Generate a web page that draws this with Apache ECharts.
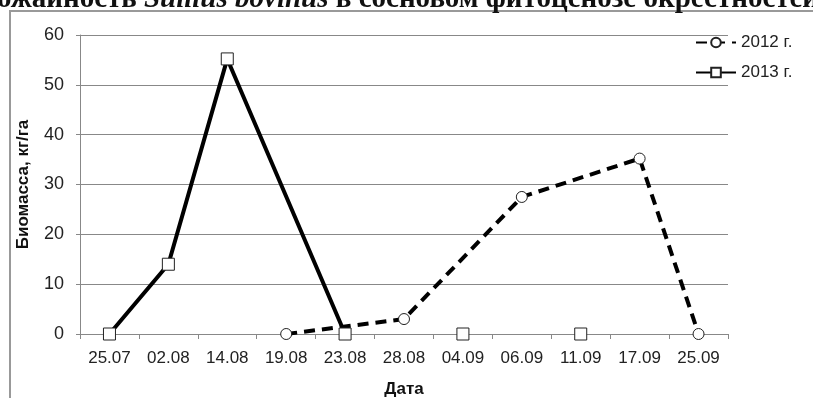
<!DOCTYPE html>
<html>
<head>
<meta charset="utf-8">
<script src="https://cdn.jsdelivr.net/npm/echarts@6/dist/echarts.min.js"></script>
<style>
  html, body { margin: 0; padding: 0; background: #fff; }
  #chart { width: 813px; height: 398px; }
</style>
</head>
<body>
<div id="chart"></div>
<script>
// даты отбора проб
const dates = ['25.07', '02.08', '14.08', '19.08', '23.08', '28.08', '04.09', '06.09', '11.09', '17.09', '25.09'];
// биомасса, кг/га
const y2012 = [null, null, null, 0, null, 3, null, 27.5, null, 35.2, 0];
const y2013 = [0, 14, 55.2, null, 0, null, null, null, null, null, null];
// отдельные точки 2013 г. без линии
const y2013dots = [null, null, null, null, null, null, 0, null, 0, null, null];
const yTicks = [0, 10, 20, 30, 40, 50, 60];

const font = '"Liberation Sans", Arial, sans-serif';
const serif = '"Liberation Serif", "Times New Roman", serif';
const markStyle = { color: '#fff', borderColor: '#222', borderWidth: 1 };

let myChart = echarts.init(document.getElementById('chart'));
myChart.setOption({
  backgroundColor: '#fff',
  animation: false,
  graphic: [
    {
      type: 'rect',
      shape: { x: 10, y: 11, width: 900, height: 500 },
      style: { fill: 'none', stroke: '#999', lineWidth: 2 },
      silent: true
    },
    {
      type: 'text',
      left: -3,
      top: -15,
      style: {
        text: '{a|ожайность }{i|Suillus bovinus}{a| в сосновом фитоценозе окрестностей}',
        fontFamily: serif,
        fontSize: 29,
        fontWeight: 'bold',
        rich: {
          a: { fontFamily: serif, fontWeight: 'bold', fontSize: 29, fill: '#111' },
          i: { fontFamily: serif, fontWeight: 'bold', fontStyle: 'italic', fontSize: 29, fill: '#111' }
        }
      }
    }
  ],
  legend: {
    data: ['2012 г.', '2013 г.'],
    orient: 'vertical',
    left: 695,
    top: 34,
    padding: 0,
    itemWidth: 40,
    itemHeight: 12,
    itemGap: 13,
    textStyle: { fontFamily: font, fontSize: 17, color: '#222' }
  },
  grid: { left: 80, right: 85, top: 35, bottom: 64, outerBoundsMode: 'none', containLabel: false },
  xAxis: {
    type: 'category',
    data: dates,
    boundaryGap: true,
    name: 'Дата',
    nameLocation: 'middle',
    nameGap: 47,
    nameTextStyle: { fontFamily: font, fontWeight: 'bold', fontSize: 17, color: '#111' },
    axisLine: { lineStyle: { color: '#888', width: 1 } },
    axisTick: { show: true, length: 5, lineStyle: { color: '#888' } },
    axisLabel: { fontFamily: font, fontSize: 17, color: '#222', margin: 16 }
  },
  yAxis: {
    type: 'value',
    min: yTicks[0],
    max: yTicks[yTicks.length - 1],
    interval: 10,
    name: 'Биомасса, кг/га',
    nameLocation: 'middle',
    nameGap: 48,
    nameTextStyle: { fontFamily: font, fontWeight: 'bold', fontSize: 17, color: '#111' },
    axisLine: { show: true, lineStyle: { color: '#888', width: 1 } },
    axisTick: { show: true, length: 4, lineStyle: { color: '#888' } },
    axisLabel: { fontFamily: font, fontSize: 18, color: '#222', margin: 16 },
    splitLine: { show: true, lineStyle: { color: '#888', width: 1 } }
  },
  series: [
    {
      name: '2012 г.',
      type: 'line',
      data: y2012,
      connectNulls: true,
      symbol: 'circle',
      symbolSize: 11,
      showAllSymbol: true,
      itemStyle: markStyle,
      lineStyle: { color: '#000', width: 4, type: [11, 7] },
      z: 2
    },
    {
      name: '2013 г.',
      type: 'line',
      data: y2013,
      connectNulls: true,
      symbol: 'rect',
      symbolSize: 12,
      showAllSymbol: true,
      itemStyle: markStyle,
      lineStyle: { color: '#000', width: 4 },
      z: 3
    },
    {
      name: '2013 г.',
      type: 'line',
      data: y2013dots,
      connectNulls: false,
      symbol: 'rect',
      symbolSize: 12,
      showAllSymbol: true,
      itemStyle: markStyle,
      lineStyle: { width: 0, opacity: 0 },
      z: 3
    }
  ]
});
</script>
</body>
</html>
